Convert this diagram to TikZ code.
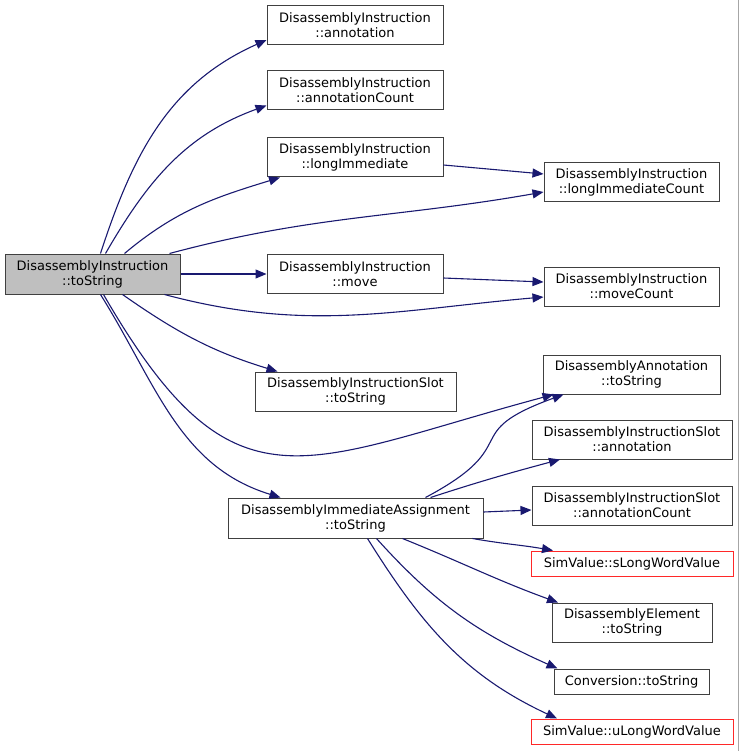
\documentclass[tikz,border=0pt]{standalone}
\usepackage{fontspec}
\setmainfont{DejaVu Sans}
\usepackage{xcolor}
\usetikzlibrary{arrows.meta,positioning}

\definecolor{edgeblue}{RGB}{25,25,112}
\definecolor{boxline}{RGB}{64,64,64}
\definecolor{rootfill}{RGB}{191,191,191}
\definecolor{extred}{RGB}{255,40,40}

\begin{document}
\begin{tikzpicture}[
  x=1pt, y=-1pt,
  font=\fontsize{13}{15}\selectfont,
  >={Triangle[length=11pt,width=9pt]},
  % call edge
  call/.style={edgeblue, line width=1.1pt, ->},
  % boxes
  fn/.style={draw=boxline, fill=white, line width=1pt,
             align=center, inner sep=0pt, minimum height=39pt},
  fnOne/.style={fn, minimum height=25pt},
  fnRoot/.style={fn, fill=rootfill, minimum height=40pt},
  fnExt/.style={fnOne, draw=extred},
]
\useasboundingbox (0,0) rectangle (739,751);

% ── Column X positions ──────────────────────────────────────────────
\def\xR{92.5}   % caller
\def\xM{355.5}  % direct callees
\def\xL{632}    % leaf callees

% ── Caller ──────────────────────────────────────────────────────────
\node[fnRoot, minimum width=175pt] (root) at (\xR, 274)
  {DisassemblyInstruction\\::toString};

% ── Direct callees ─────────────────────────────────────────────────
\node[fn, minimum width=176pt] (diAnn)     at (\xM-0.5, 25.5)
  {DisassemblyInstruction\\::annotation};
\node[fn, minimum width=176pt] (diAnnCnt)  at (\xM-0.5, 90.5)
  {DisassemblyInstruction\\::annotationCount};
\node[fn, minimum width=176pt] (diLongImm) at (\xM-0.5, 157.5)
  {DisassemblyInstruction\\::longImmediate};
\node[fn, minimum width=176pt] (diMove)    at (\xM-0.5, 274)
  {DisassemblyInstruction\\::move};
\node[fn, minimum width=201pt] (slotStr)   at (\xM, 391.5)
  {DisassemblyInstructionSlot\\::toString};
\node[fn, minimum width=255pt, minimum height=40pt] (assignStr) at (\xM, 518)
  {DisassemblyImmediateAssignment\\::toString};

% ── Leaf callees ───────────────────────────────────────────────────
\node[fn, minimum width=175pt] (diLongImmCnt) at (\xL-0.5, 182.5)
  {DisassemblyInstruction\\::longImmediateCount};
\node[fn, minimum width=175pt] (diMoveCnt)    at (\xL-0.5, 286.5)
  {DisassemblyInstruction\\::moveCount};
\node[fn, minimum width=177pt] (annStr)       at (\xL-0.5, 374.5)
  {DisassemblyAnnotation\\::toString};
\node[fn, minimum width=200pt] (slotAnn)      at (\xL, 439.5)
  {DisassemblyInstructionSlot\\::annotation};
\node[fn, minimum width=200pt] (slotAnnCnt)   at (\xL, 505.5)
  {DisassemblyInstructionSlot\\::annotationCount};
\node[fnExt, minimum width=202pt] (sLong)     at (\xL, 563.5)
  {SimValue::sLongWordValue};
\node[fn, minimum width=160pt] (elemStr)      at (\xL, 622.5)
  {DisassemblyElement\\::toString};
\node[fnOne, minimum width=155pt] (convStr)   at (\xL-0.5, 681.5)
  {Conversion::toString};
\node[fnExt, minimum width=202pt] (uLong)     at (\xL, 731.5)
  {SimValue::uLongWordValue};

% ── Calls from the caller ──────────────────────────────────────────
\draw[call] ([xshift=8pt]root.north) to[out=72,in=204]
  ([yshift=-14.5pt]diAnn.west);
\draw[call] ([xshift=13pt]root.north) to[out=60,in=200]
  ([yshift=-15pt]diAnnCnt.west);
\draw[call] ([xshift=32pt]root.north) to[out=40,in=197]
  ([xshift=-75pt]diLongImm.south);
\draw[call] ([xshift=77pt]root.north) to[out=15,in=190]
  ([yshift=-9.5pt]diLongImmCnt.west);
\draw[call] (root) -- (diMove);
\draw[call] ([xshift=72pt]root.south) to[out=-15,in=185]
  ([yshift=-10.5pt]diMoveCnt.west);
\draw[call] ([xshift=30pt]root.south) to[out=-35,in=163]
  ([xshift=-78pt]slotStr.north);
\draw[call] ([xshift=11pt]root.south) to[out=-60,in=195,looseness=1.45]
  ([xshift=-78pt]annStr.south);
\draw[call] ([xshift=8pt]root.south) to[out=-58,in=163]
  ([xshift=-75pt]assignStr.north);

% ── Calls from the direct callees ─────────────────────────────────
\draw[call] ([yshift=-7.5pt]diLongImm.east) -- ([yshift=8.5pt]diLongImmCnt.west);
\draw[call] ([yshift=-4pt]diMove.east) -- ([yshift=4.5pt]diMoveCnt.west);

\draw[call] ([xshift=70pt]assignStr.north) to[out=28,in=200,looseness=1.7]
  ([xshift=-68pt]annStr.south);
\draw[call] ([xshift=75pt]assignStr.north) to[out=18,in=195]
  ([xshift=-72pt]slotAnn.south);
\draw[call] ([yshift=6pt]assignStr.east) -- ([yshift=-4.5pt]slotAnnCnt.west);
\draw[call] ([xshift=117pt]assignStr.south) to[out=-10,in=170]
  ([xshift=-79pt]sLong.north);
\draw[call] ([xshift=47pt]assignStr.south) to[out=-22,in=160]
  ([xshift=-74pt]elemStr.north);
\draw[call] ([xshift=21pt]assignStr.south) to[out=-48,in=156]
  ([xshift=-74pt]convStr.north);
\draw[call] ([xshift=12pt]assignStr.south) to[out=-58,in=155]
  ([xshift=-75pt]uLong.north);

% right frame edge
\draw[black!35, line width=1pt] (738.5,0) -- (738.5,751);

\end{tikzpicture}
\end{document}
